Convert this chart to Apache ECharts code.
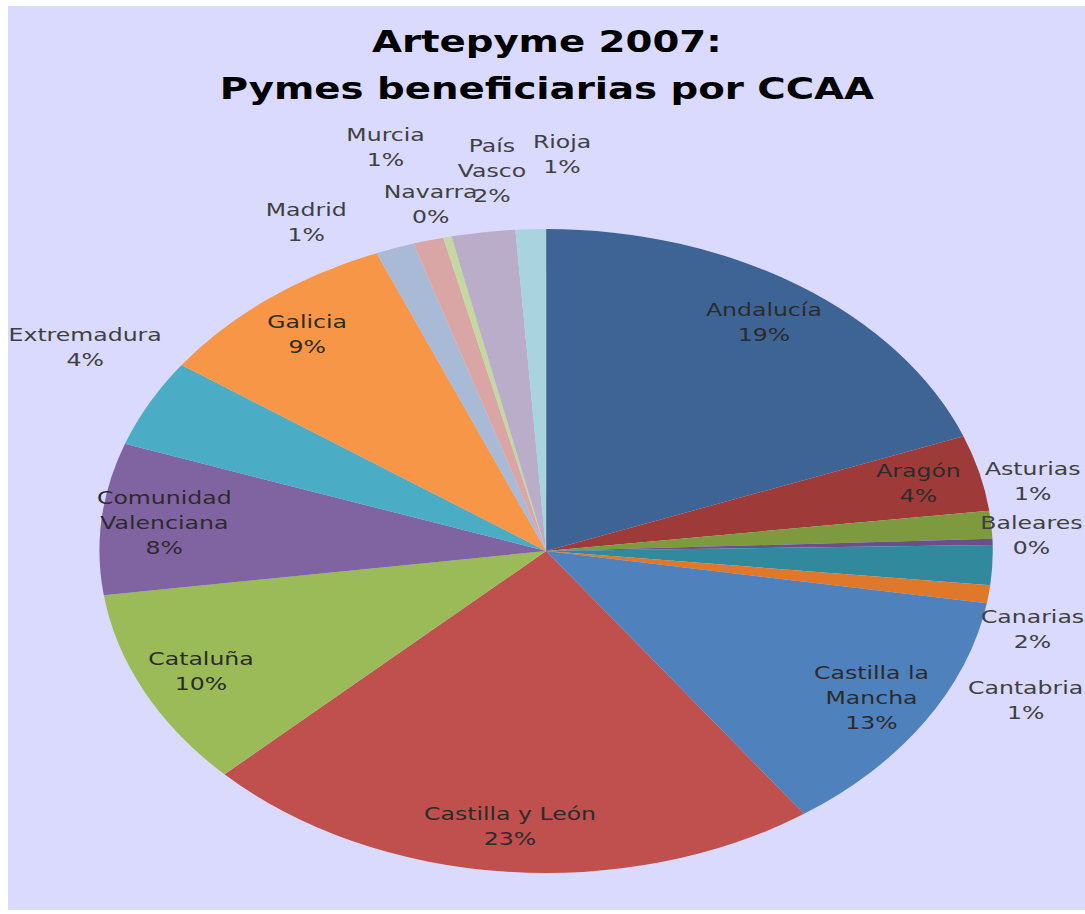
<!DOCTYPE html>
<html>
<head>
<meta charset="utf-8">
<script src="https://cdn.jsdelivr.net/npm/echarts@6/dist/echarts.min.js"></script>
<style>
html, body { margin: 0; background: #fff; }
#frame { position: absolute; left: 8px; top: 6px; width: 1077px; height: 904px; background: #dadafe; overflow: hidden; }
#main { width: 777px; height: 904px; transform: scaleX(1.387); transform-origin: 0 0; }
</style>
</head>
<body>
<div id="frame"><div id="main"></div></div>
<script>
var regiones = ['Andalucía', 'Aragón', 'Asturias', 'Baleares', 'Canarias', 'Cantabria',
    'Castilla la Mancha', 'Castilla y León', 'Cataluña', 'Comunidad Valenciana',
    'Extremadura', 'Galicia', 'Madrid', 'Murcia', 'Navarra', 'País Vasco', 'Rioja'];
var pymes = [192, 38, 14, 3, 20, 9, 126, 226, 100, 76, 44, 90, 14, 11, 3, 23, 11];
var colores = ['#3e6496', '#9e3b39', '#7e9a3e', '#6a4f8a', '#31899e', '#e0782b',
    '#4f81bd', '#c0504d', '#9bbb59', '#8064a2', '#4bacc6', '#f79646',
    '#a9bad6', '#daa6a5', '#c5d89f', '#b9adc9', '#a8d3df'];
// texto de cada etiqueta (con saltos de linea como en el original)
var etiquetas = ['Andalucía', 'Aragón', 'Asturias', 'Baleares', 'Canarias', 'Cantabria',
    'Castilla la\nMancha', 'Castilla y León', 'Cataluña', 'Comunidad\nValenciana',
    'Extremadura', 'Galicia', 'Madrid', 'Murcia', 'Navarra', 'País\nVasco', 'Rioja'];
// etiqueta dentro (true) o fuera (false) del sector
var dentro = [true, true, false, false, false, false, true, true, true, true,
    false, true, false, false, false, false, false];

var R = 322;
var centro = [388, 545];

// ajuste manual de las etiquetas de fuera (como el "mejor ajuste" de Excel)
var ajuste = {
    'Asturias': [-11, -40], 'Baleares': [-13, -5], 'Canarias': [-12, 63], 'Cantabria': [-14, 101],
    'Extremadura': [-10, -36], 'Madrid': [-50, 13], 'Murcia': [-20, -53], 'Navarra': [-3, 8],
    'País Vasco': [12, -20], 'Rioja': [24, -34]
};

var chart = echarts.init(document.getElementById('main'), null, {renderer: 'svg'});

function etiqueta(p) {
    return etiquetas[p.dataIndex] + '\n' + Math.round(p.percent) + '%';
}

var option = {
    title: {
        text: 'Artepyme 2007:\nPymes beneficiarias por CCAA',
        left: 'center',
        top: 7,
        textStyle: {
            fontFamily: "'DejaVu Sans Condensed', 'DejaVu Sans'",
            fontWeight: 'bold',
            fontSize: 31,
            lineHeight: 47,
            color: '#000'
        }
    },
    animation: false,
    series: [{
        type: 'pie',
        center: centro,
        radius: [0, R],
        silent: true,
        label: {show: false},
        labelLine: {show: false},
        data: regiones.map(function (n, i) {
            return {name: n, value: pymes[i], itemStyle: {color: colores[i]}};
        })
    }, {
        // anillo interior: etiquetas dentro de los sectores
        type: 'pie',
        center: centro,
        radius: [0.7 * R, R],
        silent: true,
        avoidLabelOverlap: false,
        labelLayout: {hideOverlap: false},
        itemStyle: {color: 'rgba(0,0,0,0)'},
        labelLine: {show: false},
        label: {
            position: 'inside',
            fontFamily: 'DejaVu Sans',
            fontSize: 17,
            lineHeight: 25,
            color: '#2b2b2b',
            formatter: etiqueta
        },
        data: regiones.map(function (n, i) {
            return {name: n, value: pymes[i], label: {show: dentro[i]}};
        })
    }, {
        // anillo exterior: etiquetas fuera de los sectores
        type: 'pie',
        center: centro,
        radius: [R, 1.236 * R],
        silent: true,
        avoidLabelOverlap: false,
        labelLayout: {hideOverlap: false},
        itemStyle: {color: 'rgba(0,0,0,0)'},
        labelLine: {show: false},
        label: {
            position: 'inside',
            fontFamily: 'DejaVu Sans',
            fontSize: 17,
            lineHeight: 25,
            color: '#404040',
            formatter: etiqueta
        },
        data: regiones.map(function (n, i) {
            return {
                name: n, value: pymes[i],
                label: {show: !dentro[i], offset: ajuste[n] || [0, 0]}
            };
        })
    }]
};
chart.setOption(option);
</script>
</body>
</html>
